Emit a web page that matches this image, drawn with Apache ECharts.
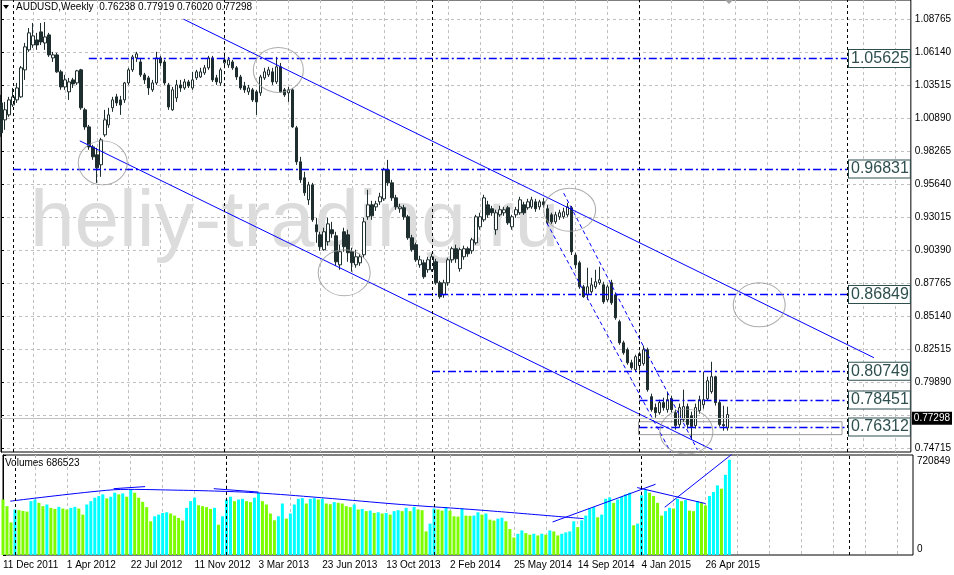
<!DOCTYPE html>
<html><head><meta charset="utf-8">
<script src="https://cdn.jsdelivr.net/npm/echarts@6.0.0/dist/echarts.min.js"></script>
<style>html,body{margin:0;padding:0;background:#fff}#c{width:954px;height:575px}</style>
</head><body><div id="c"></div>
<script>
const symbolTitle = 'AUDUSD,Weekly';
const lastQuote = [0.76238, 0.77919, 0.76020, 0.77298];
const dateLabels = ['11 Dec 2011','1 Apr 2012','22 Jul 2012','11 Nov 2012','3 Mar 2013','23 Jun 2013','13 Oct 2013','2 Feb 2014','25 May 2014','14 Sep 2014','4 Jan 2015','26 Apr 2015'];
// weekly candles: [open, close, low, high]
const weeklyOHLC = [
[1.0209,0.9971,0.9939,1.0273],[1.0074,1.0154,0.9995,1.0217],[1.0114,1.0233,1.0098,1.0257],[1.0193,1.0257,1.0177,1.0328],
[1.0233,1.0328,1.0209,1.0368],[1.0257,1.0488,1.0249,1.0503],[1.0472,1.0655,1.0392,1.0686],[1.0631,1.0766,1.0615,1.0805],
[1.0670,1.0742,1.0647,1.0845],[1.0710,1.0670,1.0631,1.0766],[1.0774,1.0694,1.0670,1.0845],[1.0686,1.0734,1.0631,1.0853],
[1.0750,1.0591,1.0575,1.0766],[1.0567,1.0591,1.0535,1.0615],[1.0591,1.0456,1.0448,1.0607],[1.0456,1.0336,1.0313,1.0472],
[1.0336,1.0392,1.0313,1.0432],[1.0297,1.0376,1.0233,1.0408],[1.0392,1.0360,1.0328,1.0408],[1.0368,1.0464,1.0352,1.0472],
[1.0472,1.0170,1.0154,1.0480],[1.0154,1.0018,0.9995,1.0170],[1.0018,0.9859,0.9836,1.0034],[0.9859,0.9780,0.9756,0.9875],
[0.9796,0.9693,0.9573,0.9852],[0.9717,0.9915,0.9621,0.9931],[0.9955,1.0074,0.9939,1.0154],[1.0034,1.0114,1.0011,1.0170],
[1.0170,1.0233,1.0138,1.0257],[1.0257,1.0209,1.0185,1.0281],[1.0233,1.0193,1.0114,1.0265],[1.0233,1.0368,1.0209,1.0376],
[1.0368,1.0472,1.0352,1.0488],[1.0472,1.0575,1.0456,1.0591],[1.0567,1.0599,1.0535,1.0615],[1.0535,1.0432,1.0416,1.0567],
[1.0432,1.0392,1.0360,1.0448],[1.0408,1.0328,1.0273,1.0424],[1.0313,1.0368,1.0297,1.0392],[1.0368,1.0567,1.0352,1.0615],
[1.0567,1.0527,1.0503,1.0583],[1.0535,1.0368,1.0352,1.0551],[1.0352,1.0177,1.0154,1.0368],[1.0154,1.0313,1.0146,1.0336],
[1.0249,1.0352,1.0217,1.0392],[1.0352,1.0328,1.0297,1.0392],[1.0328,1.0376,1.0313,1.0400],[1.0376,1.0344,1.0328,1.0392],
[1.0328,1.0392,1.0313,1.0456],[1.0408,1.0456,1.0392,1.0472],[1.0416,1.0456,1.0408,1.0488],[1.0448,1.0488,1.0432,1.0511],
[1.0488,1.0567,1.0472,1.0583],[1.0567,1.0392,1.0376,1.0583],[1.0408,1.0376,1.0352,1.0432],[1.0368,1.0472,1.0344,1.0488],
[1.0527,1.0551,1.0503,1.0583],[1.0511,1.0551,1.0488,1.0575],[1.0535,1.0488,1.0472,1.0551],[1.0488,1.0416,1.0392,1.0503],
[1.0416,1.0328,1.0313,1.0432],[1.0344,1.0313,1.0289,1.0376],[1.0297,1.0328,1.0273,1.0352],[1.0313,1.0233,1.0217,1.0328],
[1.0297,1.0217,1.0114,1.0313],[1.0289,1.0416,1.0265,1.0432],[1.0408,1.0456,1.0392,1.0488],[1.0432,1.0472,1.0416,1.0496],
[1.0456,1.0376,1.0352,1.0488],[1.0376,1.0496,1.0360,1.0575],[1.0496,1.0297,1.0289,1.0527],[1.0313,1.0273,1.0257,1.0328],
[1.0289,1.0313,1.0217,1.0336],[1.0313,1.0018,1.0011,1.0328],[1.0011,0.9740,0.9716,1.0026],[0.9740,0.9597,0.9573,0.9780],
[0.9613,0.9494,0.9470,0.9661],[0.9438,0.9557,0.9398,0.9581],[0.9557,0.9279,0.9263,0.9573],[0.9239,0.9184,0.9096,0.9295],
[0.9160,0.9065,0.9033,0.9184],[0.9041,0.9184,0.9033,0.9216],[0.9105,0.9247,0.9073,0.9295],[0.9200,0.9168,0.9136,0.9263],
[0.9152,0.8945,0.8913,0.9184],[0.8921,0.9025,0.8882,0.9081],[0.9184,0.9065,0.9025,0.9216],[0.9160,0.9017,0.8945,0.9200],
[0.9025,0.8937,0.8866,0.9057],[0.8921,0.8985,0.8898,0.9041],[0.8937,0.8985,0.8913,0.9009],[0.9001,0.9263,0.8977,0.9295],
[0.9303,0.9398,0.9279,0.9518],[0.9398,0.9311,0.9279,0.9430],[0.9382,0.9406,0.9350,0.9430],[0.9422,0.9462,0.9398,0.9494],
[0.9446,0.9677,0.9430,0.9693],[0.9677,0.9573,0.9549,0.9756],[0.9573,0.9454,0.9430,0.9597],[0.9454,0.9382,0.9359,0.9478],
[0.9367,0.9382,0.9335,0.9406],[0.9375,0.9303,0.9279,0.9398],[0.9303,0.9136,0.9120,0.9319],[0.9136,0.9041,0.9025,0.9160],
[0.9081,0.8961,0.8945,0.9097],[0.8921,0.8961,0.8898,0.8993],[0.8937,0.8826,0.8810,0.8961],[0.8882,0.8961,0.8858,0.8985],
[0.8882,0.8985,0.8866,0.9009],[0.8945,0.8778,0.8762,0.8969],[0.8778,0.8667,0.8651,0.8794],[0.8683,0.8778,0.8659,0.8802],
[0.8778,0.8961,0.8754,0.8977],[0.8961,0.9049,0.8937,0.9065],[0.9049,0.8969,0.8937,0.9081],[0.8890,0.9041,0.8866,0.9057],
[0.8985,0.9049,0.8961,0.9073],[0.9049,0.9009,0.8985,0.9065],[0.9033,0.9120,0.9009,0.9136],[0.9096,0.9303,0.9081,0.9319],
[0.9223,0.9303,0.9200,0.9335],[0.9279,0.9454,0.9263,0.9478],[0.9398,0.9319,0.9295,0.9430],[0.9367,0.9335,0.9311,0.9390],
[0.9200,0.9335,0.9160,0.9359],[0.9319,0.9359,0.9303,0.9390],[0.9335,0.9359,0.9311,0.9382],[0.9375,0.9255,0.9239,0.9390],
[0.9223,0.9303,0.9200,0.9319],[0.9319,0.9359,0.9295,0.9382],[0.9335,0.9438,0.9319,0.9462],[0.9398,0.9335,0.9319,0.9422],
[0.9375,0.9422,0.9359,0.9446],[0.9382,0.9438,0.9367,0.9462],[0.9422,0.9367,0.9343,0.9446],[0.9382,0.9422,0.9359,0.9438],
[0.9422,0.9398,0.9375,0.9454],[0.9367,0.9255,0.9239,0.9398],[0.9319,0.9263,0.9247,0.9335],[0.9263,0.9319,0.9247,0.9343],
[0.9303,0.9335,0.9279,0.9359],[0.9303,0.9343,0.9287,0.9375],[0.9319,0.9382,0.9303,0.9414],[0.9375,0.9025,0.8999,0.9390],
[0.8999,0.8921,0.8890,0.9017],[0.8937,0.8746,0.8730,0.8953],[0.8746,0.8667,0.8659,0.8762],[0.8683,0.8746,0.8643,0.8898],
[0.8707,0.8762,0.8691,0.8818],[0.8746,0.8786,0.8730,0.8882],[0.8778,0.8802,0.8762,0.8906],[0.8762,0.8627,0.8611,0.8786],
[0.8643,0.8746,0.8627,0.8762],[0.8778,0.8619,0.8603,0.8802],[0.8683,0.8500,0.8484,0.8699],[0.8468,0.8301,0.8285,0.8484],
[0.8301,0.8222,0.8206,0.8317],[0.8246,0.8142,0.8126,0.8262],[0.8142,0.8103,0.8087,0.8166],[0.8087,0.8190,0.8071,0.8206],
[0.8119,0.8214,0.8079,0.8230],[0.8135,0.8246,0.8119,0.8278],[0.8246,0.7928,0.7912,0.8262],[0.7872,0.7769,0.7753,0.7896],
[0.7785,0.7745,0.7705,0.7817],[0.7745,0.7825,0.7729,0.7848],[0.7825,0.7785,0.7761,0.7864],[0.7769,0.7848,0.7745,0.7912],
[0.7856,0.7769,0.7745,0.7880],[0.7745,0.7642,0.7610,0.7769],[0.7650,0.7785,0.7626,0.7817],[0.7689,0.7793,0.7673,0.7928],
[0.7793,0.7650,0.7618,0.7817],[0.7721,0.7634,0.7530,0.7753],[0.7642,0.7785,0.7618,0.7817],[0.7761,0.7848,0.7737,0.7880],
[0.7808,0.7848,0.7777,0.8071],[0.7856,0.7999,0.7840,0.8031],[0.7912,0.8031,0.7896,0.8150],[0.8031,0.7825,0.7801,0.8039],
[0.7825,0.7650,0.7634,0.7848],[0.7650,0.7642,0.7602,0.7800],[0.76238,0.77298,0.76020,0.77919]
];
const volumes = [
400000,352000,235000,328000,323000,318000,313000,388000,400000,376000,352000,364000,340000,332000,347000,335000,
328000,340000,347000,335000,291000,364000,388000,413000,425000,437000,408000,420000,449000,437000,444000,420000,
473000,449000,413000,383000,345000,243000,279000,291000,303000,308000,299000,284000,267000,248000,340000,388000,
413000,359000,352000,345000,332000,340000,218000,279000,400000,420000,388000,400000,405000,388000,381000,413000,
449000,388000,364000,299000,250000,279000,371000,262000,299000,364000,405000,410000,371000,405000,410000,400000,
405000,371000,366000,381000,376000,371000,352000,345000,364000,328000,332000,316000,320000,303000,308000,299000,
303000,291000,316000,323000,316000,340000,316000,347000,328000,323000,170000,226000,335000,328000,320000,345000,
320000,279000,277000,335000,284000,282000,284000,308000,291000,299000,255000,248000,262000,269000,243000,187000,
126000,153000,177000,158000,146000,153000,141000,153000,146000,177000,170000,141000,153000,163000,170000,243000,
201000,250000,284000,335000,345000,272000,291000,405000,415000,376000,400000,420000,437000,449000,214000,226000,
430000,473000,449000,425000,376000,284000,316000,340000,335000,405000,388000,396000,320000,316000,388000,376000,
357000,425000,454000,502000,478000,578000,686523
];
const priceTickValues = [0.7464,0.77265,0.7989,0.82515,0.8514,0.87765,0.9039,0.93015,0.9564,0.98265,1.0089,1.03515,1.0614,1.08765];
const priceTickLabels = ['0.74715','','0.79890','0.82515','0.85140','0.87765','0.90390','0.93015','0.95640','0.98265','1.00890','1.03515','1.06140','1.08765'];
const volumeTickValues = [0, 720849];
const levelValues = [1.05625, 0.96831, 0.86849, 0.80749, 0.78451, 0.76312];
const levelStarts = [22, 3, 102, 108, 160, 160];
const levelEnd = 212;
const yearStarts = [3, 56, 108, 160, 212];
const currentPrice = 0.77298;
const channelLines = [[[45.75,1.0875],[218.75,0.8182]], [[19.75,0.9907],[178.25,0.7450]]];
const steepLines = [[[136.8,0.9253],[167.75,0.7435]], [[141,0.9491],[174.5,0.7450]]];
const circleCenters = [[25.5,0.9732],[69.5,1.0471],[86,0.8858],[142.5,0.9359],[190,0.8603],[171.75,0.7594]];
const circleSizes = [[49,44],[50,45],[52,46],[52,43],[52,44],[53,45]];
const zoneRect = [[159.75,0.7673],[210.75,0.7570]];
const volumeArc = [[1.8,388000],[24,461000],[31.4,473000],[42.3,468000],[53,461000],[63,449000],[79.8,413000],[99.8,364000],[119.8,323000],[145.5,262000]];
const volumeSegments = [
  [[27.7,478000],[35.6,493000]], [[52.8,478000],[63.9,454000]],
  [[137.7,238000],[163.5,510000]], [[158.9,486000],[176,371000]], [[165.8,344000],[182.7,728000]]
];
const NCAT = 229;

const cats = Array.from({length: NCAT}, (_, i) => String(i));
const FONT = 'Liberation Sans, Arial, sans-serif';
const BLUE = '#0000ff';
const CANDLE = '#1e2d2d';

const chart = echarts.init(document.getElementById('c'), null, {renderer: 'canvas'});

const levelMarks = levelValues.map((v, k) => [
  {coord: [levelStarts[k], v],
   lineStyle: {color: BLUE, width: 1.3, type: [8, 3, 2, 3]},
   label: {show: true, position: 'end', distance: 2, formatter: v.toFixed(5), fontSize: 16, fontFamily: FONT,
           color: '#2f4f4f', backgroundColor: '#fff', borderColor: '#2f4f4f', borderWidth: 1, padding: [1, 1, 0, 2]}},
  {coord: [levelEnd, v]}
]);

const series = [];
series.push({
  type: 'candlestick', xAxisIndex: 0, yAxisIndex: 0, data: weeklyOHLC, barWidth: 3,
  itemStyle: {color: '#ffffff', color0: CANDLE, borderColor: CANDLE, borderColor0: CANDLE, borderWidth: 1},
  silent: true, z: 3
});
channelLines.forEach((ln, k) => series.push({
  type: 'line', xAxisIndex: 1, yAxisIndex: 0, data: ln, symbol: 'none', silent: true, z: 4,
  lineStyle: {color: BLUE, width: 1},
  markLine: k === 0 ? {
    symbol: ['none', 'none'], silent: true, animation: false, label: {show: false},
    data: [
      ...yearStarts.map(x => ({xAxis: x, lineStyle: {color: '#000', width: 1, type: [3, 3]}, label: {show: false}})),
      {yAxis: currentPrice, lineStyle: {color: '#c0c0c0', width: 1, type: 'solid'},
       label: {show: true, position: 'end', distance: 1, formatter: currentPrice.toFixed(5), color: '#fff',
               backgroundColor: '#000', padding: [2, 2, 1, 2], fontSize: 10, fontFamily: FONT}},
      ...levelMarks
    ]
  } : undefined,
  markArea: k === 0 ? {
    silent: true,
    itemStyle: {color: 'rgba(0,0,0,0)', borderColor: '#9a9a9a', borderWidth: 1},
    data: [[{coord: zoneRect[0]}, {coord: zoneRect[1]}]]
  } : undefined
}));
steepLines.forEach(ln => series.push({
  type: 'line', xAxisIndex: 1, yAxisIndex: 0, data: ln, symbol: 'none', silent: true, z: 4,
  lineStyle: {color: BLUE, width: 1, type: [4, 3]}
}));
series.push({
  type: 'scatter', xAxisIndex: 1, yAxisIndex: 0, silent: true, z: 5,
  data: circleCenters.map((c, k) => ({value: c, symbolSize: circleSizes[k]})),
  symbol: 'circle',
  itemStyle: {color: 'rgba(0,0,0,0)', borderColor: '#999', borderWidth: 1}
});
series.push({
  type: 'bar', xAxisIndex: 2, yAxisIndex: 1, data: volumes, barWidth: 3, silent: true,
  itemStyle: {color: p => (p.dataIndex > 0 && volumes[p.dataIndex] > volumes[p.dataIndex - 1]) ? '#00ffff' : '#7cfc00'}
});
series.push({
  type: 'line', xAxisIndex: 3, yAxisIndex: 1, data: volumeArc, symbol: 'none', smooth: 0.4, silent: true, z: 4,
  lineStyle: {color: BLUE, width: 1},
  markLine: {symbol: ['none', 'none'], silent: true, animation: false, label: {show: false},
    data: yearStarts.map(x => ({xAxis: x, lineStyle: {color: '#000', width: 1, type: [3, 3]}}))}
});
volumeSegments.forEach(ln => series.push({
  type: 'line', xAxisIndex: 3, yAxisIndex: 1, data: ln, symbol: 'none', silent: true, z: 4,
  lineStyle: {color: BLUE, width: 1}
}));

const gridLine = {show: true, lineStyle: {color: '#c0c0c0', width: 1, type: [3, 3]}};

chart.setOption({
  animation: false,
  backgroundColor: '#fff',
  textStyle: {fontFamily: FONT},
  grid: [
    {left: 1, right: 41, top: 0, height: 452, show: true, borderColor: '#000', borderWidth: 1, backgroundColor: 'rgba(0,0,0,0)'},
    {left: 1, right: 41, top: 455, height: 100, show: true, borderColor: '#000', borderWidth: 1, backgroundColor: 'rgba(0,0,0,0)'}
  ],
  xAxis: [
    {type: 'category', gridIndex: 0, data: cats, boundaryGap: false, axisLine: {show: false}, axisTick: {show: false},
     axisLabel: {show: false}, splitLine: Object.assign({interval: 7}, gridLine)},
    {type: 'value', gridIndex: 0, min: 0, max: NCAT - 1, show: false},
    {type: 'category', gridIndex: 1, data: cats, boundaryGap: false, axisLine: {show: false}, axisTick: {show: false},
     axisLabel: {interval: 15, align: 'left', fontSize: 10, color: '#000', margin: 5, fontFamily: FONT,
       formatter: (v, idx) => (idx % 16 === 0 && dateLabels[idx / 16]) ? dateLabels[idx / 16] : ''},
     splitLine: Object.assign({interval: 7}, gridLine)},
    {type: 'value', gridIndex: 1, min: 0, max: NCAT - 1, show: false}
  ],
  yAxis: [
    {type: 'value', gridIndex: 0, position: 'right', min: 0.7432, max: 1.10276, scale: true,
     axisLine: {show: true, lineStyle: {color: '#000', width: 1}},
     axisTick: {show: true, length: 3, lineStyle: {color: '#000'}, customValues: priceTickValues},
     axisLabel: {customValues: priceTickValues, fontSize: 10, color: '#000', margin: 4, fontFamily: FONT,
       formatter: v => { let k = priceTickValues.findIndex(t => Math.abs(t - v) < 1e-6); return k >= 0 ? priceTickLabels[k] : ''; }},
     splitLine: gridLine},
    {type: 'value', gridIndex: 1, position: 'right', min: 0, max: 720849,
     axisLine: {show: true, lineStyle: {color: '#000', width: 1}},
     axisTick: {show: true, length: 3, lineStyle: {color: '#000'}, customValues: volumeTickValues},
     axisLabel: {customValues: volumeTickValues, fontSize: 10, color: '#000', margin: 4, fontFamily: FONT,
       formatter: v => v === 0 ? '{b|0}' : '{t|' + v + '}',
       rich: {t: {padding: [13, 0, 0, 0], fontSize: 10, fontFamily: FONT}, b: {padding: [0, 0, 12, 0], fontSize: 10, fontFamily: FONT}}},
     splitLine: {show: false}}
  ],
  graphic: [
    {type: 'text', left: 30, top: 184, z: 1, silent: true,
     style: {text: 'heliy-trading.ru', font: '80px ' + FONT, fill: '#dcdcdc'}},
    {type: 'polygon', z: 100, silent: true, shape: {points: [[3, 5], [9, 5], [6, 9]]}, style: {fill: '#000'}},
    {type: 'text', left: 16, top: 2, z: 100, silent: true,
     style: {text: symbolTitle + '  ' + lastQuote.map(v => v.toFixed(5)).join(' '), font: '10px ' + FONT, fill: '#000'}},
    {type: 'polygon', z: 100, silent: true, shape: {points: [[725, 0], [733, 0], [729, 4]]}, style: {fill: '#a0a0a0'}},
    {type: 'text', left: 5, top: 458, z: 100, silent: true,
     style: {text: 'Volumes ' + volumes[volumes.length - 1], font: '10px ' + FONT, fill: '#000'}}
  ],
  series: series
});
</script></body></html>
